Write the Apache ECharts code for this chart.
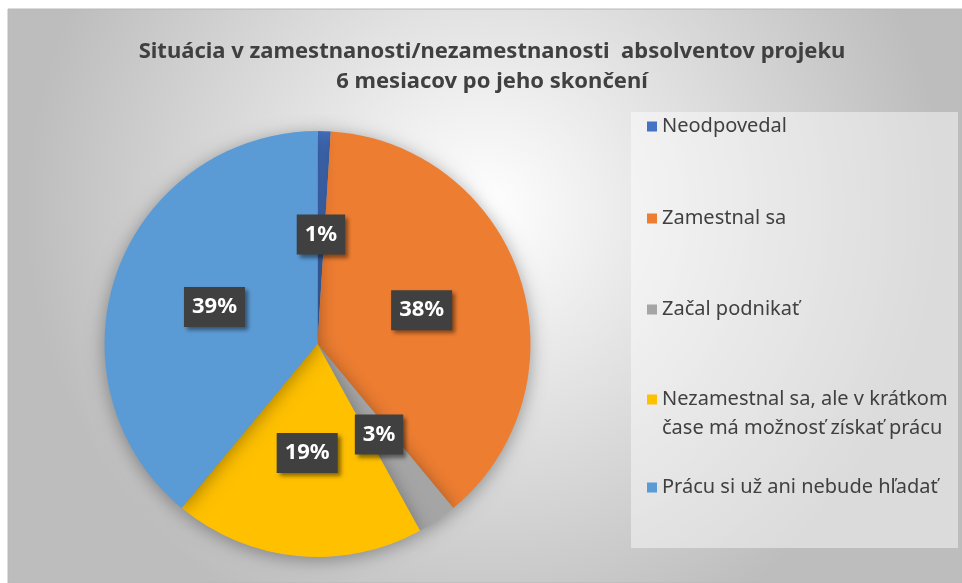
<!DOCTYPE html>
<html>
<head>
<meta charset="utf-8">
<script src="https://cdn.jsdelivr.net/npm/echarts@6/dist/echarts.min.js"></script>
<style>
  html, body { margin: 0; padding: 0; background: #fff; }
  #chart { width: 962px; height: 583px; }
</style>
</head>
<body>
<div id="chart"></div>
<script>
// údaje z grafu
var categories = [
  "Neodpovedal",
  "Zamestnal sa",
  "Začal podnikať",
  "Nezamestnal sa, ale v krátkom\nčase má možnosť získať prácu",
  "Prácu si už ani nebude hľadať"
];
var values = [1, 38, 3, 19, 39];
var colors = ["#4472C4", "#ED7D31", "#A5A5A5", "#FFC000", "#5B9BD5"];
var legendTops = [107, 199, 290, 351, 468];

var chart = echarts.init(document.getElementById("chart"));
var font = "'Noto Sans', sans-serif";

// jedna legenda na polozku, aby sedeli rozostupy ako v Exceli
var legends = categories.map(function (name, i) {
  var twoLines = name.indexOf("\n") >= 0;
  return {
    data: [name],
    orient: "vertical",
    left: 642,
    top: legendTops[i],
    itemWidth: 10,
    itemHeight: 10,
    itemGap: 0,
    icon: "rect",
    selectedMode: false,
    // pri dvojriadkovej polozke ma byt znacka pri prvom riadku
    formatter: twoLines ? function (n) { return " \n" + n; } : "{name}",
    textStyle: {
      fontFamily: font,
      fontSize: 20,
      color: "#404040",
      lineHeight: 29
    }
  };
});

var option = {
  backgroundColor: "#fff",
  color: colors,
  graphic: [
    {
      type: "rect",
      z: -10,
      shape: { x: 8, y: 9, width: 954, height: 574 },
      style: {
        fill: {
          type: "radial", x: 0.5, y: 0.35, r: 0.8,
          colorStops: [
            { offset: 0, color: "#ffffff" },
            { offset: 1, color: "#bdbdbd" }
          ]
        },
        stroke: "#b8b8b8",
        lineWidth: 1
      }
    },
    {
      type: "rect",
      z: -9,
      shape: { x: 631, y: 112, width: 327, height: 436 },
      style: { fill: "rgba(255,255,255,0.45)" }
    }
  ],
  title: {
    text: "Situácia v zamestnanosti/nezamestnanosti  absolventov projeku\n6 mesiacov po jeho skončení",
    left: 487,
    top: 32,
    textAlign: "center",
    textStyle: {
      fontFamily: font,
      fontSize: 22,
      fontWeight: "bold",
      color: "#404040",
      lineHeight: 30
    }
  },
  legend: legends,
  series: [{
    type: "pie",
    center: [317.5, 344],
    radius: 213,
    startAngle: 90,
    clockwise: true,
    animation: false,
    itemStyle: {
      shadowBlur: 18,
      shadowColor: "rgba(0,0,0,0.35)",
      shadowOffsetY: 3
    },
    label: {
      position: "inside",
      formatter: "{d}%",
      fontFamily: font,
      fontSize: 22,
      fontWeight: "bold",
      color: "#fff",
      backgroundColor: "#404040",
      padding: [10, 8, 8, 8],
      shadowBlur: 4,
      shadowColor: "rgba(0,0,0,0.45)",
      shadowOffsetX: 3,
      shadowOffsetY: 3
    },
    labelLine: { show: false },
    emphasis: { disabled: true },
    data: categories.map(function (name, i) {
      return { name: name, value: values[i] };
    })
  }]
};

chart.setOption(option);
</script>
</body>
</html>
